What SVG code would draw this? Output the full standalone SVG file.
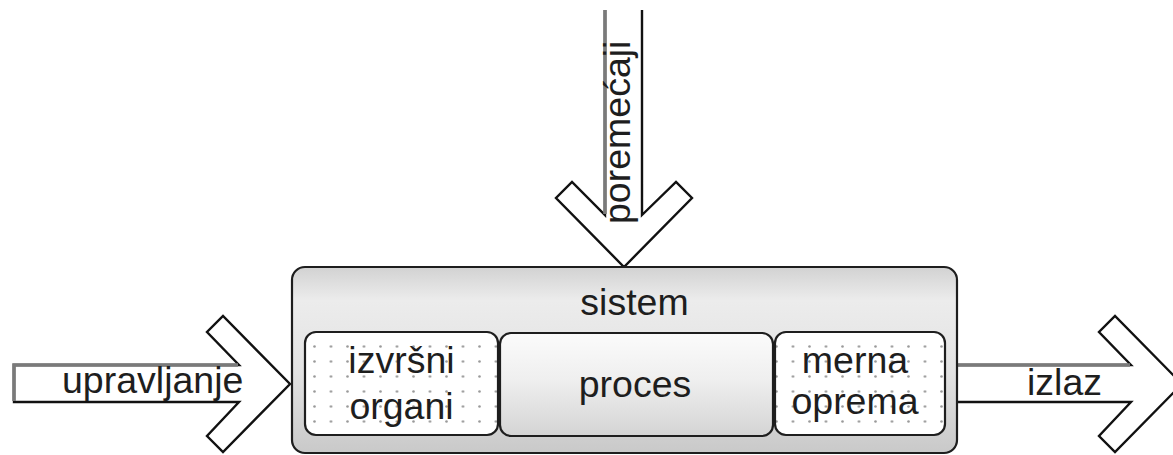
<svg xmlns="http://www.w3.org/2000/svg" width="1173" height="455" viewBox="0 0 1173 455">
  <defs>
    <linearGradient id="sysFill" x1="0" y1="0" x2="0" y2="1">
      <stop offset="0" stop-color="#d2d2d2"/>
      <stop offset="0.18" stop-color="#ececec"/>
      <stop offset="0.55" stop-color="#e3e3e3"/>
      <stop offset="1" stop-color="#c9c9c9"/>
    </linearGradient>
    <linearGradient id="procFill" x1="0" y1="0" x2="0" y2="1">
      <stop offset="0" stop-color="#fbfbfb"/>
      <stop offset="0.45" stop-color="#efefef"/>
      <stop offset="1" stop-color="#d4d4d4"/>
    </linearGradient>
    <pattern id="dots" patternUnits="userSpaceOnUse" x="313" y="345" width="16.5" height="15">
      <rect width="16.5" height="15" fill="#ffffff"/>
      <circle cx="1.5" cy="1.5" r="1.3" fill="#999999"/>
    </pattern>
  </defs>
  <style>
    .arrow { fill: #ffffff; stroke: #111111; stroke-width: 2.4; stroke-linejoin: miter; }
    .shade { stroke: #7a7a7a; stroke-width: 3.6; fill: none; }
    .box { stroke: #1e1e1e; stroke-width: 2.2; }
    .lbl { font-family: "Liberation Sans", Arial, sans-serif; font-size: 37.5px; fill: #1e1e1e; }
    .mid { text-anchor: middle; }
  </style>

  <rect width="1173" height="455" fill="#ffffff"/>

  <!-- block arrows: inputs, disturbance and output -->
  <g id="connectors">
    <g id="arrow-upravljanje">
      <path class="arrow" d="M14,365 L239,365 L207,332 L223,316 L290,384 L223,452 L207,436 L239,402 L14,402 Z"/>
      <path class="shade" d="M14,401 L14,365 L238,365"/>
      <text class="lbl" x="62" y="393">upravljanje</text>
    </g>
    <g id="arrow-poremecaji">
      <path class="arrow" d="M605,10 L605,215 L572,182 L556,198 L624,267 L692,198 L676,182 L642,215 L642,10"/>
      <path class="shade" d="M605,10 L605,214"/>
      <text class="lbl" transform="translate(630,224) rotate(-90)" x="0" y="0">poremećaji</text>
    </g>
    <g id="arrow-izlaz">
      <path class="arrow" d="M957,365 L1131,365 L1099,332 L1115,316 L1182,384 L1115,452 L1099,436 L1131,402 L957,402"/>
      <path class="shade" d="M958,365 L1130,365"/>
      <text class="lbl" x="1027" y="395">izlaz</text>
    </g>
  </g>

  <!-- system container -->
  <g id="sistem">
    <rect class="box" x="292" y="267" width="665" height="186" rx="13" fill="url(#sysFill)" stroke-width="2.6"/>
    <text class="lbl mid" x="634.5" y="315" font-size="44">sistem</text>
  </g>

  <g id="izvrsni-organi">
    <rect class="box" x="305" y="332" width="193" height="103" rx="11" fill="url(#dots)"/>
    <text class="lbl mid" x="401.5" y="373">izvršni</text>
    <text class="lbl mid" x="401.5" y="419">organi</text>
  </g>

  <g id="proces">
    <rect class="box" x="500" y="333" width="273" height="103" rx="11" fill="url(#procFill)"/>
    <text class="lbl mid" x="635" y="397">proces</text>
  </g>

  <g id="merna-oprema">
    <rect class="box" x="775" y="332" width="170" height="103" rx="11" fill="url(#dots)"/>
    <text class="lbl mid" x="855" y="373">merna</text>
    <text class="lbl mid" x="855" y="414">oprema</text>
  </g>
</svg>
